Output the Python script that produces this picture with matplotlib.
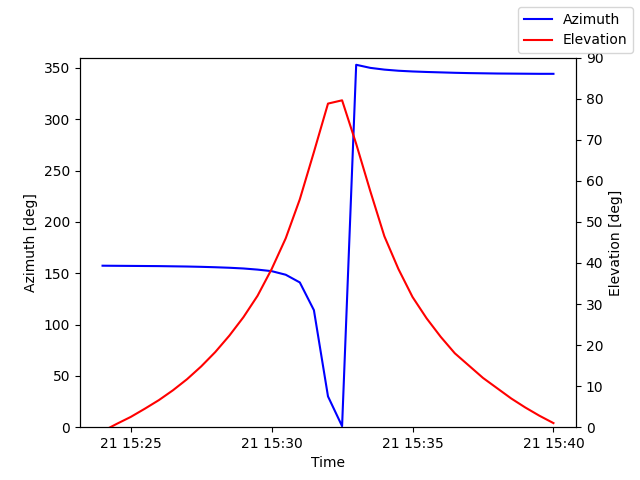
import numpy as np
import pandas as pd
import matplotlib
matplotlib.use("Agg")
import matplotlib.pyplot as plt
import matplotlib.dates as mdates

times = pd.date_range("2024-01-21 15:24:00", "2024-01-21 15:40:00", freq="30s")
azimuth = [157.3, 157.2, 157.1, 157.0, 156.9, 156.7, 156.5, 156.2, 155.8, 155.3, 154.6, 153.5,
           152.0, 148.5, 141.0, 114.0, 30.0, 1.0, 353.0, 350.0, 348.3, 347.2, 346.5, 346.0,
           345.6, 345.2, 344.9, 344.7, 344.5, 344.4, 344.3, 344.2, 344.2]
elevation = [-1.0, 0.8, 2.5, 4.5, 6.6, 9.0, 11.7, 14.8, 18.3, 22.3, 26.8, 32.0,
             38.5, 46.0, 55.5, 67.0, 78.8, 79.6, 69.0, 57.5, 46.5, 38.5, 31.7, 26.5,
             22.0, 18.0, 15.0, 12.0, 9.5, 7.0, 4.8, 2.8, 1.0]

fig, ax1 = plt.subplots(figsize=(6.4, 4.8), dpi=100)
ax2 = ax1.twinx()
ax1.plot(times, azimuth, color="blue", label="Azimuth")
ax2.plot(times, elevation, color="red", label="Elevation")
ax1.set_ylim(0, 360)
ax2.set_ylim(0, 90)
ax1.set_xlabel("Time")
ax1.set_ylabel("Azimuth [deg]")
ax2.set_ylabel("Elevation [deg]")
ax1.xaxis.set_major_locator(mdates.MinuteLocator(byminute=range(0, 60, 5)))
ax1.xaxis.set_major_formatter(mdates.DateFormatter("%d %H:%M"))
fig.legend(loc="upper right")
fig.savefig("out.png")
